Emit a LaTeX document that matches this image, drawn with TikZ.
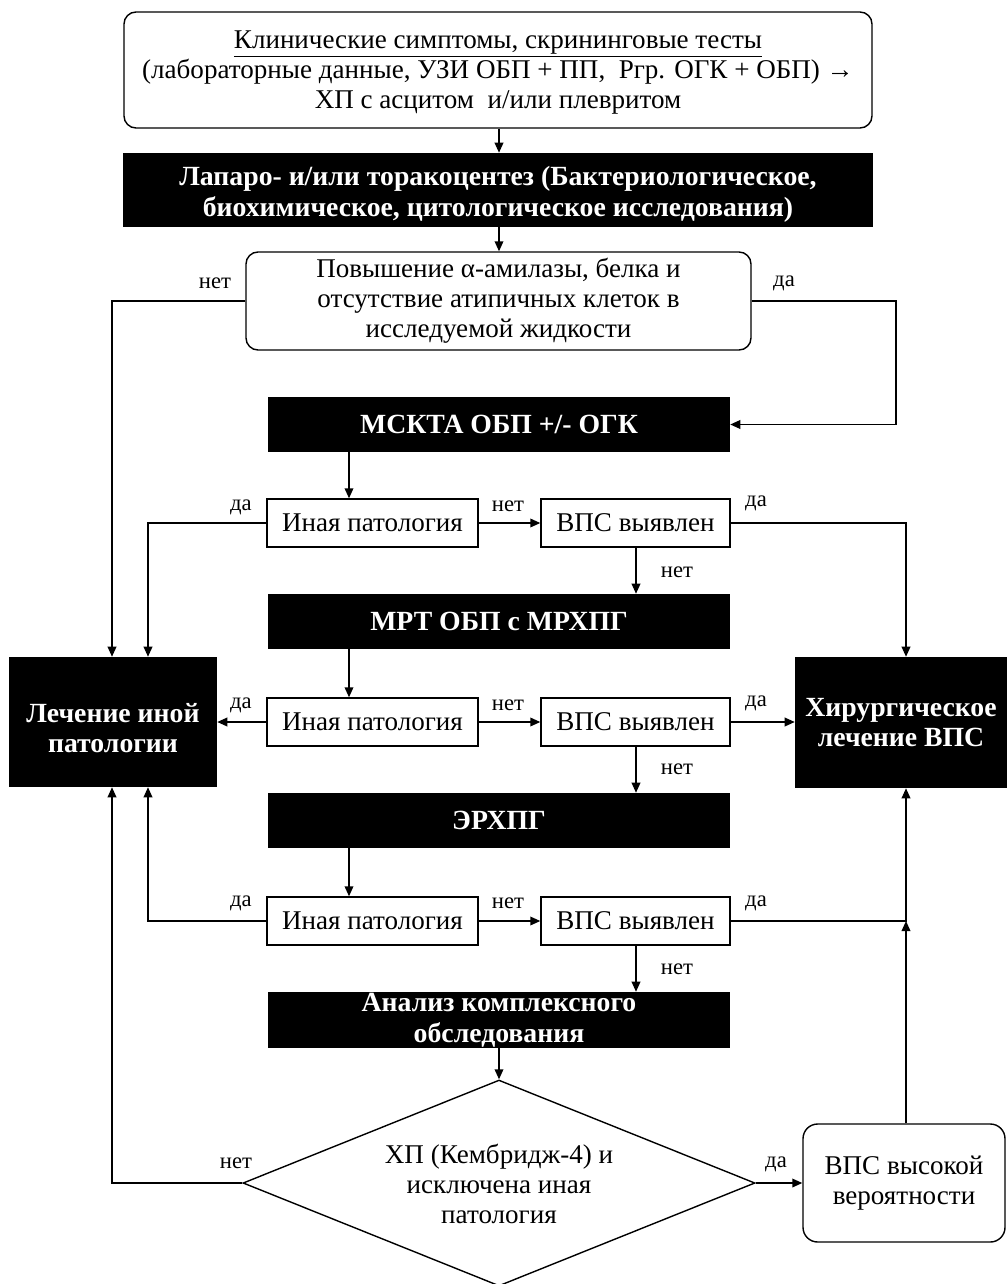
\documentclass[tikz,border=0pt]{standalone}
\usepackage{fontspec}
\setmainfont{Liberation Serif}
\usetikzlibrary{shapes.geometric,arrows.meta}
\begin{document}
\begin{tikzpicture}[x=0.75pt,y=-0.75pt,
  every node/.style={inner sep=0pt},
  txt/.style={font=\fontsize{20.3}{22.5}\selectfont, align=center},
  btxt/.style={font=\bfseries\fontsize{20.8}{23}\selectfont, align=center, text=white},
  wbox/.style={draw, line width=1.05pt, fill=white, txt},
  rbox/.style={wbox, rounded corners=9pt},
  bbox/.style={fill=black, btxt},
  lbl/.style={font=\fontsize{17}{19}\selectfont},
  conn/.style={line width=1.05pt},
  arr/.style={conn, -{Triangle[length=7.5pt,width=6.5pt]}}
]
\useasboundingbox (0,0) rectangle (1007,1284);
\fill[white] (0,0) rectangle (1007,1284);

% nodes
\node[rbox, minimum width=561pt, minimum height=87pt] (top) at (498,70) {};
\node[txt] (topt) at (498,73)
  {\underline{Клинические симптомы, скрининговые тесты}\\
   (лабораторные данные, УЗИ ОБП + ПП,\ \ Ргр. ОГК + ОБП) →\\
   ХП с асцитом\ \ и/или плевритом};
\node[bbox, minimum width=562.5pt, minimum height=55.5pt] (lap) at (498,190) {};
\node[btxt] (lapt) at (498,194)
  {Лапаро- и/или торакоцентез (Бактериологическое,\\
   биохимическое, цитологическое исследования)};
\node[rbox, minimum width=378.75pt, minimum height=73.5pt] (amy) at (498.5,301)
  {Повышение α-амилазы, белка и\\ отсутствие атипичных клеток в\\ исследуемой жидкости};
\node[bbox, minimum width=346.5pt, minimum height=41.25pt] (mskt) at (499,424.5) {МСКТА ОБП +/- ОГК};
\node[wbox, minimum width=158.25pt, minimum height=36pt] (ina1) at (372.5,523) {Иная патология};
\node[wbox, minimum width=141.75pt, minimum height=36pt] (vps1) at (635.5,523) {ВПС выявлен};
\node[bbox, minimum width=346.5pt, minimum height=41.25pt] (mrt) at (499,621.5) {МРТ ОБП с МРХПГ};
\node[wbox, minimum width=158.25pt, minimum height=36pt] (ina2) at (372.5,722) {Иная патология};
\node[wbox, minimum width=141.75pt, minimum height=36pt] (vps2) at (635.5,722) {ВПС выявлен};
\node[bbox, minimum width=346.5pt, minimum height=41.25pt] (erh) at (499,820.5) {ЭРХПГ};
\node[wbox, minimum width=158.25pt, minimum height=36pt] (ina3) at (372.5,921) {Иная патология};
\node[wbox, minimum width=141.75pt, minimum height=36pt] (vps3) at (635.5,921) {ВПС выявлен};
\node[bbox, minimum width=346.5pt, minimum height=42pt] (anal) at (499,1020)
  {Анализ комплексного\\ обследования};
\node[diamond, draw, line width=1.05pt, fill=white, minimum width=384pt, minimum height=154.5pt] (dia) at (499,1183) {};
\node[txt] (diat) at (499,1184) {ХП (Кембридж-4) и\\ исключена иная\\ патология};
\node[rbox, rounded corners=11pt, minimum width=151.5pt, minimum height=88.5pt] (vpsh) at (904,1183)
  {ВПС высокой\\ вероятности};
\node[bbox, minimum width=156pt, minimum height=97.5pt] (lech) at (113,722) {};
\node[btxt] (lecht) at (113,728) {Лечение иной\\ патологии};
\node[bbox, minimum width=159pt, minimum height=98.25pt] (hir) at (901,722.5)
  {Хирургическое\\ лечение ВПС};

% helper x positions
\coordinate (xL1) at (112,0);
\coordinate (xL2) at (148,0);
\coordinate (xR0) at (896,0);
\coordinate (xR1) at (906,0);
\coordinate (xC1) at (349,0);
\coordinate (xC2) at (636,0);
\coordinate (xM) at (499,0);

% connectors
\draw[arr] (top.south -| xM) -- (lap.north -| xM);
\draw[arr] (lap.south -| xM) -- (amy.north -| xM);
\draw[arr] (amy.west) -| (xL1 |- lech.north);
\draw[arr] (amy.east) -| (xR0 |- mskt.east) -- (mskt.east);
\draw[arr] (mskt.south -| xC1) -- (ina1.north -| xC1);
\draw[arr] (ina1.east) -- (vps1.west);
\draw[arr] (ina1.west) -| (xL2 |- lech.north);
\draw[arr] (vps1.east) -| (xR1 |- hir.north);
\draw[arr] (vps1.south -| xC2) -- (mrt.north -| xC2);
\draw[arr] (mrt.south -| xC1) -- (ina2.north -| xC1);
\draw[arr] (ina2.west) -- (ina2.west -| lech.east);
\draw[arr] (ina2.east) -- (vps2.west);
\draw[arr] (vps2.east) -- (vps2.east -| hir.west);
\draw[arr] (vps2.south -| xC2) -- (erh.north -| xC2);
\draw[arr] (erh.south -| xC1) -- (ina3.north -| xC1);
\draw[arr] (ina3.west) -| (xL2 |- lech.south);
\draw[arr] (ina3.east) -- (vps3.west);
\draw[arr] (vps3.east) -| (xR1 |- hir.south);
\draw[arr] (vps3.south -| xC2) -- (anal.north -| xC2);
\draw[arr] (anal.south -| xM) -- (dia.north);
\draw[arr] (dia.west) -| (xL1 |- lech.south);
\draw[arr] (dia.east) -- (vpsh.west);
\draw[arr] (vpsh.north -| xR1) -- (xR1 |- vps3.east);

% labels
\node[lbl] (l1) at (215,283) {нет};
\node[lbl] (l2) at (784,283) {да};
\node[lbl] (l3) at (241,507) {да};
\node[lbl] (l4) at (508,506) {нет};
\node[lbl] (l5) at (756,503) {да};
\node[lbl] (l6) at (677,572) {нет};
\node[lbl] (l7) at (241,705) {да};
\node[lbl] (l8) at (508,705) {нет};
\node[lbl] (l9) at (756,703) {да};
\node[lbl] (l10) at (677,769) {нет};
\node[lbl] (l11) at (241,903) {да};
\node[lbl] (l12) at (508,903) {нет};
\node[lbl] (l13) at (756,903) {да};
\node[lbl] (l14) at (677,969) {нет};
\node[lbl] (l15) at (236,1163) {нет};
\node[lbl] (l16) at (776,1164) {да};
\end{tikzpicture}
\end{document}
